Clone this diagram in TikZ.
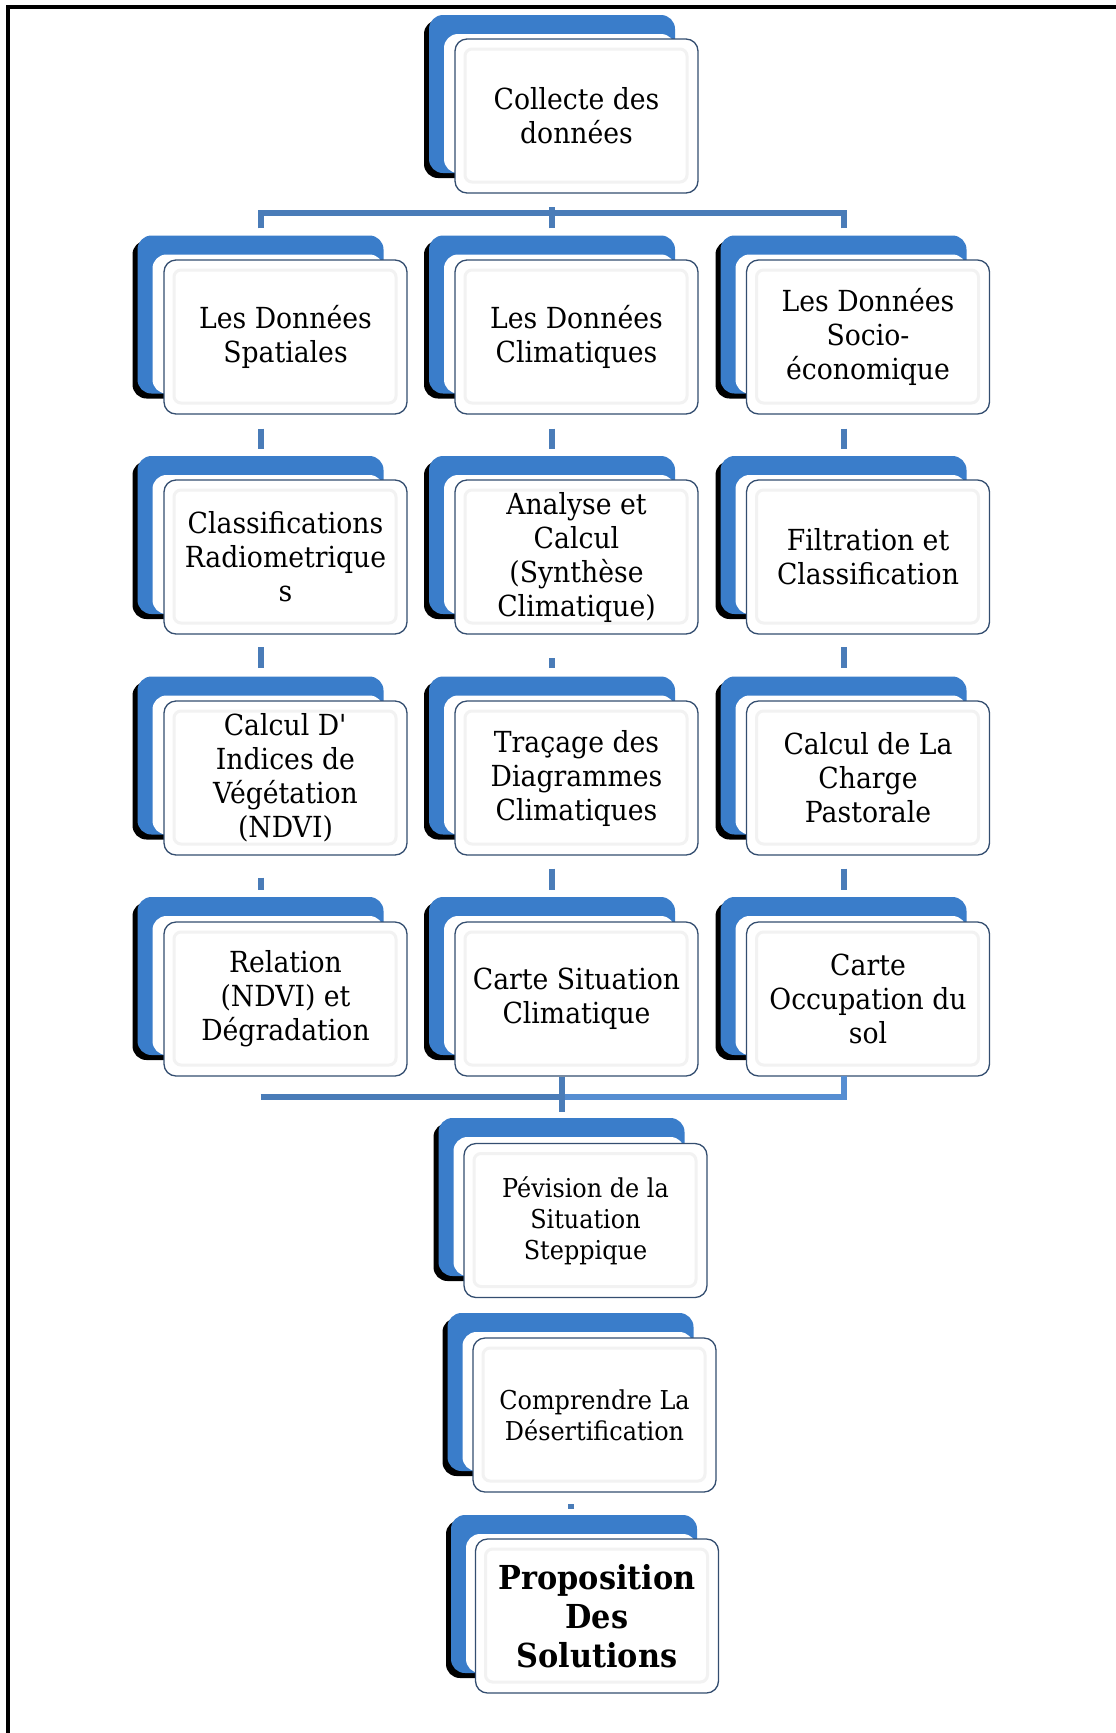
\documentclass[tikz,border=0pt]{standalone}
\usepackage{fontspec}
\setmainfont{DejaVu Serif}[FakeStretch=0.92]
\usetikzlibrary{shadows}
\definecolor{cardblue}{RGB}{58,125,202}
\definecolor{connblue}{RGB}{74,124,184}
\definecolor{connlight}{RGB}{86,142,210}
\definecolor{boxedge}{RGB}{52,78,112}

\begin{document}
\begin{tikzpicture}[x=1pt, y=-1pt,
		card/.style={rounded corners=14pt, minimum width=246pt, minimum height=158pt, inner sep=0pt, fill=cardblue, drop shadow={shadow xshift=-5pt, shadow yshift=-5pt, opacity=1, fill=black}, path picture={\fill [white] ([shift={(15pt,-19pt)}]path picture bounding box.north west) rectangle (path picture bounding box.south east);}},
		box/.style={rounded corners=12pt, minimum width=243pt, minimum height=154pt, inner sep=2pt, align=center, fill=white, draw=boxedge, line width=1.3pt, font=\fontsize{29}{34}\selectfont, path picture={\draw [black!5, line width=3pt, rounded corners=7pt] ([shift={(10pt,-10pt)}]path picture bounding box.north west) rectangle ([shift={(-11pt,11pt)}]path picture bounding box.south east);}},
		small/.style={font=\fontsize{26}{31}\selectfont},
		big/.style={font=\fontsize{33}{39}\selectfont\bfseries},
		conn/.style={draw=connblue, line width=6pt}]
			\useasboundingbox (0,0) rectangle (1116,1733);
			\draw [line width=4pt] (8,1740) -- (8,7) -- (1120,7);

			\node [card] (coll-bk) at (552, 94) {};
			\node [box] (coll) at (576.5, 116) {Collecte des\\données};

			\node [card] (spat-bk) at (260.5, 314.5) {};
			\node [box] (spat) at (285.5, 337) {Les Données\\Spatiales};
			\node [card] (clim-bk) at (552, 314.5) {};
			\node [box] (clim) at (576.5, 337) {Les Données\\Climatiques};
			\node [card] (socio-bk) at (843.5, 314.5) {};
			\node [box] (socio) at (868, 337) {Les Données\\Socio-\\économique};

			\node [card] (radio-bk) at (260.5, 535) {};
			\node [box] (radio) at (285.5, 557) {Classifications\\Radiometrique\\s};
			\node [card] (synth-bk) at (552, 535) {};
			\node [box] (synth) at (576.5, 557) {Analyse et\\Calcul\\(Synthèse\\Climatique)};
			\node [card] (filt-bk) at (843.5, 535) {};
			\node [box] (filt) at (868, 557) {Filtration et\\Classification};

			\node [card] (ndvi-bk) at (260.5, 755.5) {};
			\node [box] (ndvi) at (285.5, 778) {Calcul D\textquotesingle\\Indices de\\Végétation\\(NDVI)};
			\node [card] (diag-bk) at (552, 755.5) {};
			\node [box] (diag) at (576.5, 778) {Traçage des\\Diagrammes\\Climatiques};
			\node [card] (charge-bk) at (843.5, 755.5) {};
			\node [box] (charge) at (868, 778) {Calcul de La\\Charge\\Pastorale};

			\node [card] (degr-bk) at (260.5, 976) {};
			\node [box] (degr) at (285.5, 999) {Relation\\(NDVI) et\\Dégradation};
			\node [card] (sitclim-bk) at (552, 976) {};
			\node [box] (sitclim) at (576.5, 999) {Carte Situation\\Climatique};
			\node [card] (occup-bk) at (843.5, 976) {};
			\node [box] (occup) at (868, 999) {Carte\\Occupation du\\sol};

			\node [card] (prev-bk) at (561.5, 1197) {};
			\node [box, small] (prev) at (585.5, 1220.5) {Pévision de la\\Situation\\Steppique};
			\node [card] (compr-bk) at (570.5, 1392) {};
			\node [box, small] (compr) at (594.5, 1415) {Comprendre La\\Désertification};
			\node [card] (propo-bk) at (574, 1594) {};
			\node [box, big] (propo) at (597, 1616) {Proposition\\Des\\Solutions};

			\coordinate (split) at (552, 213);
			\coordinate (merge) at (561.5, 1097);
			\draw [conn, shorten <=34pt] (coll-bk.south) -- (split);
			\draw [conn, shorten <=7pt] (spat-bk.north) |- (split);
			\draw [conn, shorten <=7pt] (socio-bk.north) |- (split);
			\draw [conn, shorten <=7pt] (clim-bk.north) -- (split);

			\draw [conn, shorten <=35pt, shorten >=7pt] (spat-bk.south) -- (radio-bk.north);
			\draw [conn, shorten <=35pt, shorten >=7pt] (clim-bk.south) -- (synth-bk.north);
			\draw [conn, shorten <=35pt, shorten >=7pt] (socio-bk.south) -- (filt-bk.north);
			\draw [conn, shorten <=33pt, shorten >=8pt] (radio-bk.south) -- (ndvi-bk.north);
			\draw [conn, shorten <=44pt, shorten >=8pt] (synth-bk.south) -- (diag-bk.north);
			\draw [conn, shorten <=33pt, shorten >=8pt] (filt-bk.south) -- (charge-bk.north);
			\draw [conn, shorten <=43pt, shorten >=7pt] (ndvi-bk.south) -- (degr-bk.north);
			\draw [conn, shorten <=34pt, shorten >=7pt] (diag-bk.south) -- (sitclim-bk.north);
			\draw [conn, shorten <=34pt, shorten >=7pt] (charge-bk.south) -- (occup-bk.north);

			\draw [conn] (degr-bk.south |- merge) -- (merge);
			\draw [conn, draw=connlight, shorten <=21pt] (occup-bk.south) |- (merge);
			\draw [conn, shorten >=6pt] (sitclim.south -| prev-bk.north) -- (prev-bk.north);
			\draw [conn, shorten <=33pt, shorten >=6pt] (compr-bk.south) -- (compr-bk.south |- propo-bk.north);
		\end{tikzpicture}
\end{document}
